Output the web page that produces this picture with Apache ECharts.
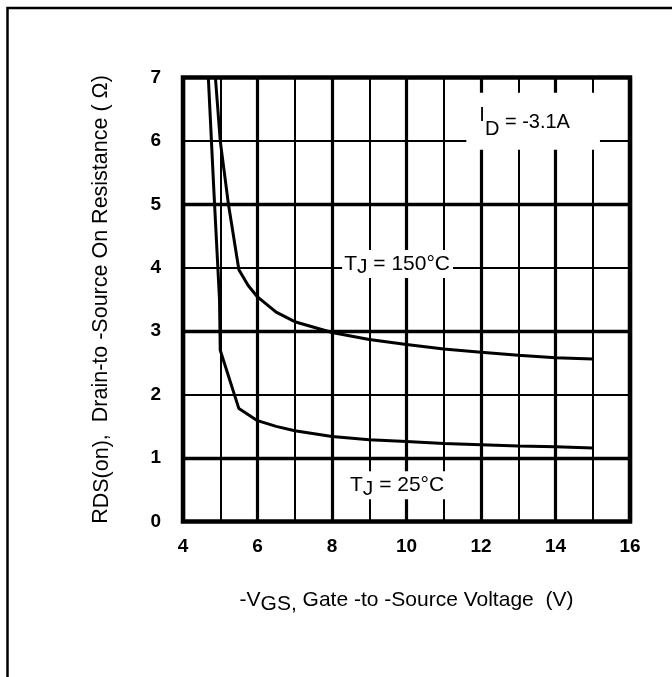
<!DOCTYPE html>
<html><head><meta charset="utf-8">
<script src="https://cdn.jsdelivr.net/npm/echarts@6/dist/echarts.min.js"></script>
<style>html,body{margin:0;padding:0;background:#fff}#c{width:672px;height:677px}</style>
</head><body><div id="c"></div>
<script>
// Curve data
const vgs150 = [4.87, 5.0, 5.22, 5.5, 5.75, 6, 6.5, 7, 8, 9, 10, 11, 12, 13, 14, 15];
const r150   = [7.0, 6.0, 5.0, 3.97, 3.72, 3.54, 3.3, 3.15, 2.98, 2.87, 2.79, 2.72, 2.67, 2.62, 2.58, 2.56];
const vgs25  = [4.68, 4.83, 4.98, 5.0, 5.5, 6, 6.5, 7, 8, 9, 10, 11, 12, 13, 14, 15];
const r25    = [7.0, 5.2, 3.5, 2.7, 1.78, 1.59, 1.5, 1.43, 1.34, 1.29, 1.26, 1.23, 1.21, 1.19, 1.18, 1.16];
// heavy horizontal grid lines
const majorY = [1, 3, 5];
// annotations (data coordinates)
const noteText = ['{i|I}{d|D}{m| = -3.1A}', '{t|T}{j|J}{t| = 150°C}', '{t|T}{j|J}{t| = 25°C}'];
const noteX = [13.40, 9.76, 9.76];
const noteY = [6.31, 4.06, 0.57];

const FONT = '"Liberation Sans", Arial, Helvetica, sans-serif';
const pair = (xs, ys) => xs.map((x, i) => [x, ys[i]]);

const tjRich = {
  t: {fontFamily: FONT, fontSize: 21, lineHeight: 28, color: '#000'},
  j: {fontFamily: FONT, fontSize: 21, lineHeight: 17, verticalAlign: 'bottom', color: '#000'}
};
const idRich = {
  i: {fontFamily: FONT, fontSize: 20, lineHeight: 29, verticalAlign: 'top', color: '#000'},
  d: {fontFamily: FONT, fontSize: 20, lineHeight: 16, verticalAlign: 'bottom', color: '#000'},
  m: {fontFamily: FONT, fontSize: 20, lineHeight: 34, color: '#000'}
};
const notePad = [[12.5, 30, 10.5, 13], [0, 3, 0, 2], [0, 3, 0, 2]];

const chart = echarts.init(document.getElementById('c'), null, {renderer: 'canvas'});
chart.setOption({
  animation: false,
  backgroundColor: '#fff',
  graphic: [{
    type: 'polyline', silent: true,
    shape: {points: [[7.5, 680], [7.5, 8], [675, 8]]},
    style: {stroke: '#000', lineWidth: 2.5, fill: null}
  }],
  grid: {left: 183, right: 42, top: 77.5, bottom: 155.5, show: true,
         borderColor: '#000', borderWidth: 4.5, backgroundColor: 'transparent'},
  xAxis: {
    type: 'value', min: 4, max: 16, interval: 2,
    name: '{m|-V}{s|GS,}{m| Gate -to -Source Voltage  (V)}',
    nameLocation: 'middle', nameGap: 63.5,
    nameTextStyle: {rich: {
      m: {fontFamily: FONT, fontSize: 21, lineHeight: 30, color: '#000'},
      s: {fontFamily: FONT, fontSize: 21, lineHeight: 10, verticalAlign: 'bottom', color: '#000'}
    }},
    axisLine: {show: false}, axisTick: {show: false},
    axisLabel: {fontFamily: FONT, fontSize: 19, fontWeight: 'bold', color: '#000', margin: 16},
    splitLine: {show: true, lineStyle: {color: '#000', width: 3.2}},
    minorTick: {show: false, splitNumber: 2},
    minorSplitLine: {show: true, lineStyle: {color: '#000', width: 2}}
  },
  yAxis: {
    type: 'value', min: 0, max: 7, interval: 1,
    name: '{m|R}{s|DS(on)}{m|,  Drain-to -Source On Resistance ( Ω)}',
    nameLocation: 'middle', nameGap: 70,
    nameTextStyle: {rich: {
      m: {fontFamily: FONT, fontSize: 21.5, lineHeight: 24, color: '#000'},
      s: {fontFamily: FONT, fontSize: 21.5, lineHeight: 10, verticalAlign: 'bottom', color: '#000'}
    }},
    axisLine: {show: false}, axisTick: {show: false},
    axisLabel: {fontFamily: FONT, fontSize: 19, fontWeight: 'bold', color: '#000', margin: 22},
    splitLine: {show: true, lineStyle: {color: '#000', width: 2}}
  },
  series: [
    {
      type: 'line', name: 'grid-major', data: [], z: 1, silent: true,
      markLine: {
        silent: true, symbol: ['none', 'none'], label: {show: false},
        lineStyle: {color: '#000', width: 3.4, type: 'solid'},
        data: majorY.map(v => ({yAxis: v}))
      }
    },
    {
      type: 'scatter', name: 'notes', z: 4, symbolSize: 0, silent: true,
      itemStyle: {opacity: 1},
      data: noteText.map((t, i) => ({
        value: [noteX[i], noteY[i]],
        label: {
          show: true, position: 'inside', formatter: t, opacity: 1,
          backgroundColor: '#fff', padding: notePad[i],
          rich: i === 0 ? idRich : tjRich
        }
      }))
    },
    {
      type: 'line', name: 'TJ = 150°C', data: pair(vgs150, r150), z: 5,
      showSymbol: false, symbol: 'none', clip: true,
      lineStyle: {color: '#000', width: 3}
    },
    {
      type: 'line', name: 'TJ = 25°C', data: pair(vgs25, r25), z: 5,
      showSymbol: false, symbol: 'none', clip: true,
      lineStyle: {color: '#000', width: 3}
    }
  ]
});
</script>
</body></html>
